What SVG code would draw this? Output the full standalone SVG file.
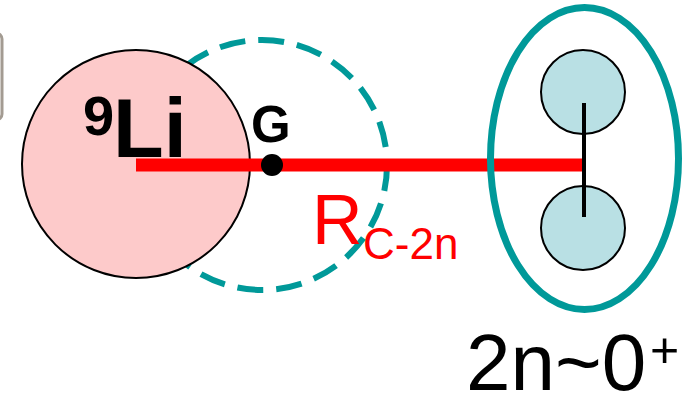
<svg xmlns="http://www.w3.org/2000/svg" width="697" height="398" viewBox="0 0 697 398">
<style>
.lbl{font-family:"Liberation Sans",Arial,sans-serif}
.b{font-weight:bold;fill:#000}
.r{fill:#ff0000}
.n{fill:#b9e0e4;stroke:#000;stroke-width:2}
</style>
<rect x="0" y="0" width="697" height="398" fill="#fff"/>
<rect x="-60" y="33" width="62" height="87" rx="6" fill="#fff" stroke="#a39b92" stroke-width="3"/>
<g id="dashed">
<circle cx="262" cy="165" r="125" fill="none" stroke="#009999" stroke-width="6" stroke-dasharray="26 13"/>
</g>
<g id="li9">
<circle cx="136" cy="164" r="114" fill="#fdcaca" stroke="#000" stroke-width="2"/>
</g>
<g id="connectors">
<line x1="136" y1="165" x2="584" y2="165" stroke="#ff0000" stroke-width="13"/>
</g>
<g id="pair">
<ellipse cx="584.5" cy="158.5" rx="94" ry="151" fill="none" stroke="#009999" stroke-width="7"/>
<circle class="n" cx="583" cy="92" r="42"/>
<circle class="n" cx="583" cy="228" r="42"/>
<line x1="584" y1="103" x2="584" y2="217" stroke="#000" stroke-width="4"/>
</g>
<g id="G">
<circle cx="272" cy="165" r="11" fill="#000"/>
<text class="lbl b" x="251" y="142" font-size="51">G</text>
</g>
<text class="lbl b" x="83" y="135" font-size="56">9</text>
<text class="lbl b" x="113" y="157" font-size="83">Li</text>
<text class="lbl r" x="312" y="244" font-size="70">R</text>
<text class="lbl r" x="363" y="259" font-size="44">C-2n</text>
<text class="lbl" x="466" y="390" font-size="80" fill="#000">2n~0</text>
<text class="lbl" x="650" y="367" font-size="50" fill="#000">+</text>
</svg>
